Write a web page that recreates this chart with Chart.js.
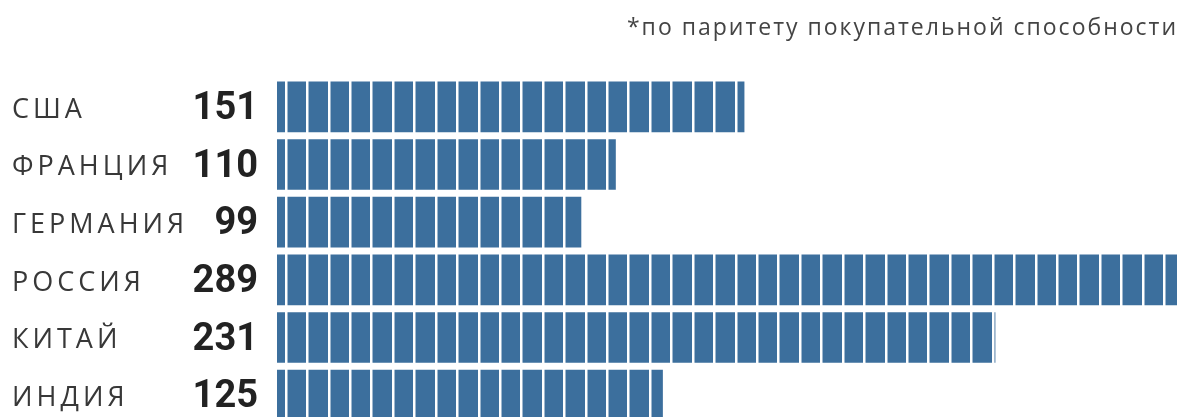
<!DOCTYPE html>
<html>
<head>
<meta charset="utf-8">
<script src="https://cdn.jsdelivr.net/npm/chart.js@4"></script>
<style>
  html, body { margin: 0; padding: 0; background: #fff; overflow: hidden; }
</style>
</head>
<body>
<canvas id="ppp-chart" width="1187" height="424"></canvas>
<script>
(() => {

  const countries = ["США", "ФРАНЦИЯ", "ГЕРМАНИЯ", "РОССИЯ", "КИТАЙ", "ИНДИЯ"];
  const values = [151, 110, 99, 289, 231, 125];
  const footnote = "*по паритету покупательной способности";

  const barColor = "#3c6f9d";
  const stripeStep = 6.83;   // white separators inside the bars, in value units
  const stripeStart = 4.95;

  // footnote top right + country names in a left column lined up with the category ticks
  const textPlugin = {
    id: 'texts',
    afterDraw(chart) {
      const ctx = chart.ctx;
      const y = chart.scales.y;
      ctx.save();
      ctx.font = '23px "Open Sans"';
      ctx.letterSpacing = '2px';
      ctx.fillStyle = '#444';
      ctx.textAlign = 'right';
      ctx.textBaseline = 'alphabetic';
      ctx.fillText(footnote, chart.chartArea.right + 1, 35);

      ctx.font = '27px "Open Sans"';
      ctx.letterSpacing = '4px';
      ctx.fillStyle = '#383838';
      ctx.textAlign = 'left';
      ctx.textBaseline = 'middle';
      countries.forEach((name, i) => {
        ctx.fillText(name, 12, y.getPixelForTick(i) + 3);
      });
      ctx.restore();
    }
  };

  const canvas = document.getElementById('ppp-chart');
  const chart = new Chart(canvas, {
    type: 'bar',
    data: {
      labels: countries,
      datasets: [{
        data: values,
        backgroundColor: barColor,
        borderWidth: 0,
        barThickness: 50
      }]
    },
    options: {
      indexAxis: 'y',
      responsive: false,
      animation: false,
      layout: { padding: { left: 0, right: 10, top: 78, bottom: 0 } },
      plugins: {
        legend: { display: false },
        tooltip: { enabled: false }
      },
      scales: {
        x: {
          min: 2.1,
          max: 289,
          border: { display: false },
          ticks: { display: false },
          grid: { color: '#fff', lineWidth: 2.5, z: 1, drawTicks: false },
          afterBuildTicks: scale => {
            const ticks = [];
            for (let v = stripeStart; v < scale.max; v += stripeStep) ticks.push({ value: v });
            scale.ticks = ticks;
          },
          afterFit: scale => { scale.height = 0; }
        },
        y: {
          border: { display: false },
          grid: { display: false, drawTicks: false },
          ticks: {
            padding: 19,
            labelOffset: 2.5,
            color: '#222',
            font: { family: 'Roboto', size: 38, weight: 'bold' },
            callback: (val, i) => values[i]
          },
          afterFit: scale => {
            scale.width = 277;
            scale.paddingTop = 0;
            scale.paddingBottom = 0;
          }
        }
      }
    },
    plugins: [textPlugin]
  });

})();
</script>
</body>
</html>
